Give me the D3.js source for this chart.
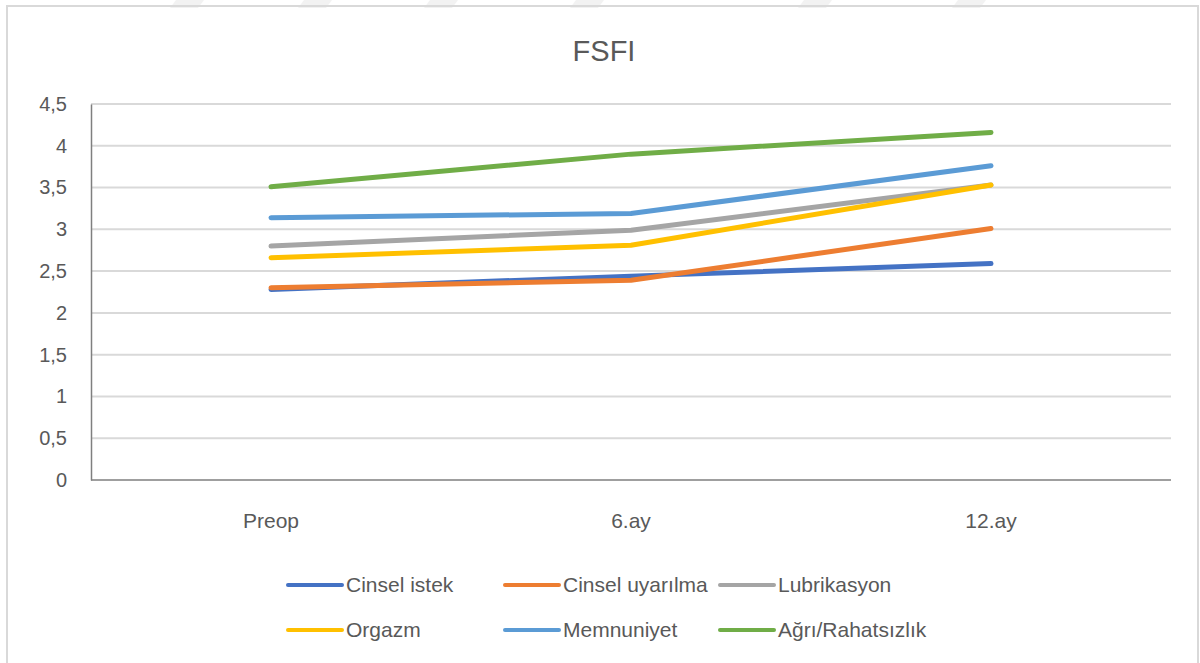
<!DOCTYPE html>
<html>
<head>
<meta charset="utf-8">
<script src="https://cdn.jsdelivr.net/npm/d3@7"></script>
<style>
  body { margin: 0; background: #fff; }
  text { font-family: "Liberation Sans", Arial, sans-serif; fill: #595959; }
</style>
</head>
<body>
<svg id="chart"></svg>
<script>
// data
const categories = ["Preop", "6.ay", "12.ay"];
const seriesNames = ["Cinsel istek", "Cinsel uyarılma", "Lubrikasyon", "Orgazm", "Memnuniyet", "Ağrı/Rahatsızlık"];
const cinselIstek = [2.28, 2.44, 2.59];
const cinselUyarilma = [2.30, 2.39, 3.01];
const lubrikasyon = [2.80, 2.99, 3.53];
const orgazm = [2.66, 2.81, 3.53];
const memnuniyet = [3.14, 3.19, 3.76];
const agri = [3.51, 3.90, 4.16];
const yTicks = [0, 0.5, 1, 1.5, 2, 2.5, 3, 3.5, 4, 4.5];

const colors = ["#4472C4", "#ED7D31", "#A5A5A5", "#FFC000", "#5B9BD5", "#70AD47"];
const allValues = [cinselIstek, cinselUyarilma, lubrikasyon, orgazm, memnuniyet, agri];

const width = 1200, height = 663;
const margin = { top: 104, right: 29, bottom: 183, left: 91 };

const svg = d3.select("#chart").attr("width", width).attr("height", height);

// faint watermark stripes at the very top
const stripes = [190, 318, 444, 590, 818, 972];
svg.append("g").selectAll("path")
    .data(stripes)
    .join("path")
    .attr("d", d => `M${d - 14},0 L${d + 14},0 L${d + 8},8 L${d - 20},8 Z`)
    .attr("fill", "#f2f2f2");

// chart area border
svg.append("rect")
    .attr("x", 7).attr("y", 6)
    .attr("width", 1191).attr("height", 670)
    .attr("fill", "none")
    .attr("stroke", "#d9d9d9")
    .attr("stroke-width", 2);

const x = d3.scaleBand().domain(categories).range([margin.left, width - margin.right]);
const y = d3.scaleLinear().domain([0, 4.5]).range([height - margin.bottom, margin.top]);

// gridlines
svg.append("g")
    .selectAll("line")
    .data(yTicks.filter(d => d > 0))
    .join("line")
    .attr("x1", margin.left).attr("x2", width - margin.right)
    .attr("y1", d => y(d)).attr("y2", d => y(d))
    .attr("stroke", "#d9d9d9")
    .attr("stroke-width", 2);

// y axis
const yAxis = svg.append("g")
    .attr("transform", `translate(${margin.left},0)`)
    .call(d3.axisLeft(y).tickValues(yTicks).tickSize(0).tickPadding(24)
        .tickFormat(d => String(d).replace(".", ",")));
yAxis.select(".domain").attr("stroke", "#7f7f7f").attr("stroke-width", 1.5);
yAxis.selectAll("text").style("font-size", "20px").attr("fill", "#595959");

// x axis
const xAxis = svg.append("g")
    .attr("transform", `translate(0,${y(0)})`)
    .call(d3.axisBottom(x).tickSize(0).tickPadding(33));
xAxis.select(".domain").attr("stroke", "#7f7f7f").attr("stroke-width", 1.5).attr("d", `M${margin.left},0H${width - margin.right}`);
xAxis.selectAll("text").style("font-size", "21px").attr("fill", "#595959");

// lines
const line = d3.line()
    .x((d, i) => x(categories[i]) + x.bandwidth() / 2)
    .y(d => y(d));

svg.append("g")
    .selectAll("path")
    .data(allValues)
    .join("path")
    .attr("d", line)
    .attr("fill", "none")
    .attr("stroke", (d, i) => colors[i])
    .attr("stroke-width", 5)
    .attr("stroke-linecap", "round")
    .attr("stroke-linejoin", "round");

// title
svg.append("text")
    .attr("x", 604).attr("y", 61)
    .attr("text-anchor", "middle")
    .style("font-size", "29px")
    .text("FSFI");

// legend
const legendX = [288, 505, 720];
const legendY = [585, 630];
const legend = svg.append("g")
    .selectAll("g")
    .data(seriesNames)
    .join("g")
    .attr("transform", (d, i) => `translate(${legendX[i % 3]},${legendY[Math.floor(i / 3)]})`);

legend.append("line")
    .attr("x1", 0).attr("x2", 54)
    .attr("stroke", (d, i) => colors[i])
    .attr("stroke-width", 4)
    .attr("stroke-linecap", "round");

legend.append("text")
    .attr("x", 58).attr("dy", "0.35em")
    .style("font-size", "21px")
    .text(d => d);
</script>
</body>
</html>
